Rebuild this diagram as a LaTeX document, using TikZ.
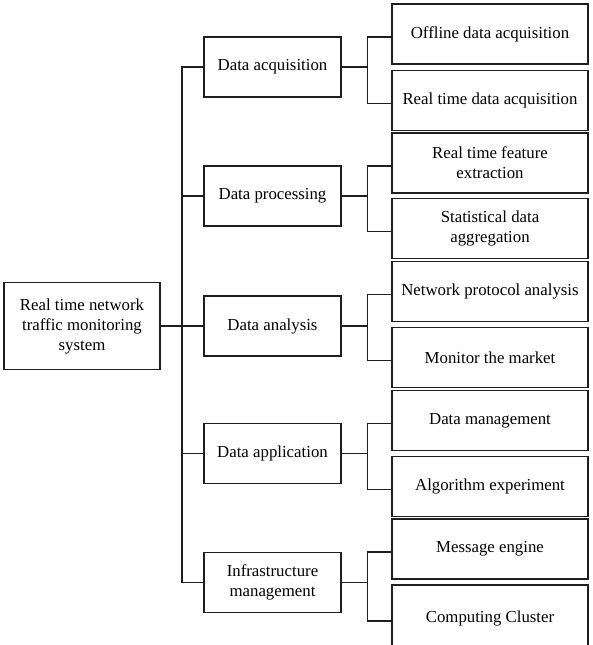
\documentclass[tikz,border=0pt]{standalone}
\usepackage{fontspec}
\setmainfont{Liberation Serif}
\begin{document}
\begin{tikzpicture}[x=1pt,y=-1pt,
  box/.style={draw=black!88,line width=1.2pt,inner sep=0pt,align=center,
    font=\fontsize{16.8}{20}\selectfont},
  rootbox/.style={box,minimum width=156pt,minimum height=87pt},
  midbox/.style={box,minimum width=137pt,minimum height=60pt},
  leafbox/.style={box,minimum width=196pt,minimum height=60pt},
  link/.style={draw=black!88,line width=1.2pt}]
\useasboundingbox (0,0) rectangle (593,645);

% root
\node[rootbox] (root) at (82,326) {Real time network\\traffic monitoring\\system};

% second level
\node[midbox] (m1) at (272.5,67)  {Data acquisition};
\node[midbox] (m2) at (272.5,196) {Data processing};
\node[midbox] (m3) at (272.5,326) {Data analysis};
\node[midbox] (m4) at (272.5,453.5) {Data application};
\node[midbox] (m5) at (272.5,582.5) {Infrastructure\\management};

% leaves
\node[leafbox] (l1)  at (490,34)    {Offline data acquisition};
\node[leafbox] (l2)  at (490,100.5) {Real time data acquisition};
\node[leafbox] (l3)  at (490,163)   {Real time feature\\extraction};
\node[leafbox] (l4)  at (490,228.5) {Statistical data\\aggregation};
\node[leafbox] (l5)  at (490,291.5) {Network protocol analysis};
\node[leafbox] (l6)  at (490,357.5) {Monitor the market};
\node[leafbox] (l7)  at (490,420.5) {Data management};
\node[leafbox] (l8)  at (490,486.5) {Algorithm experiment};
\node[leafbox] (l9)  at (490,549)   {Message engine};
\node[leafbox,minimum height=66pt] (l10) at (490,618) {Computing Cluster};

% trunk from the root to the second level
\coordinate (tr) at (182,326);
\draw[link] (root.east) -- (tr);
\draw[link] (m1.west) -| (tr) |- (m5.west);
\foreach \m in {m2,m3,m4}
  \draw[link] (\m.west) -- (\m.west -| tr);

% branches from each second-level box to its two leaves
\foreach \m/\a/\b in {m1/l1/l2, m2/l3/l4, m3/l5/l6, m4/l7/l8, m5/l9/l10} {
  \coordinate (s) at ([xshift=26pt]\m.east);
  \draw[link] (\m.east) -- (s);
  \draw[link] ([yshift=-3pt]\a.west) -| (s) |- ([yshift=-3pt]\b.west);
}
\end{tikzpicture}
\end{document}
